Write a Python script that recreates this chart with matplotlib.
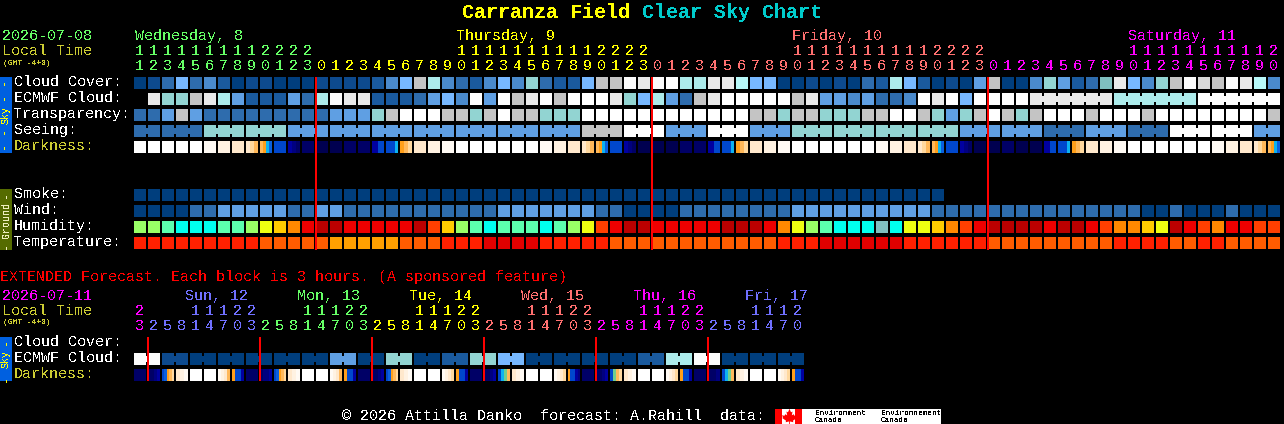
import matplotlib
matplotlib.use("Agg")
import matplotlib.pyplot as plt
from matplotlib.colors import ListedColormap
from matplotlib.patches import Rectangle

plt.rcParams["font.family"] = ["Liberation Mono", "DejaVu Sans Mono"]
plt.rcParams["text.antialiased"] = False

# ---------- palettes ----------
sky_palette = ["#003E7D", "#0D4A8E", "#1A5A9E", "#2E6CAD", "#4A8ACC", "#5F9FE3", "#77B8FF", "#7FBFBF",
               "#92D4D2", "#ACEBEB", "#B8F9F9", "#C4C4C4", "#D9D9D9", "#E9E9E9", "#FBFBFB", "#FFFFFF"]
humidity_palette = ["#99FF66", "#5CFFAE", "#00FFEE", "#EEFF11", "#FFCC00", "#FF8800", "#FF3F00",
                    "#EE0000", "#BB0000", "#80BFBF"]
temperature_palette = ["#FF2000", "#FF5C00", "#FFA000", "#E00000"]
darkness_palette = ["#FFFFFF", "#FFFAF4", "#FFF2E2", "#FFE8CC", "#FFD89E", "#FFB85A", "#FF9F1A", "#0DB2F0",
                    "#0A60DD", "#0047CC", "#0000A0", "#000080", "#000066", "#000050", "#6FCF8F"]

# ---------- hourly forecast values (class index, -1 = no data) ----------
cloud_cover = [0, 1, 3, 6, 3, 4, 2, 0, 1, 1, 0, 0, 0, 1, 1, 1, 1, 2, 4, 6, 11, 9,
               4, 3, 2, 4, 6, 4, 8, 3, 2, 2, 6, 11, 11, 14, 13, 14, 15, 9, 9, 13, 13, 10, 6, 6, 0, 0, 1, 0, 1, 0,
               3, 2, 9, 6, 2, 0, 1, 0, 5, 11, 0, 0, 4, 8, 5, 2, 3, 7, 13, 6, 4, 8, 11, 14, 12, 11, 14, 13, 10, 4]
ecmwf_cloud = [-1, 13, 8, 8, 11, 13, 9, 5, 2, 2, 2, 5, 3, 9, 14, 13, 13, 2, 2, 2, 3, 5,
               6, 4, 15, 5, 15, 11, 13, 15, 11, 15, 15, 15, 13, 8, 6, 9, 5, 3, 11, 13, 15, 15, 15, 15, 15, 11, 13, 5, 5, 4,
               5, 3, 3, 4, 15, 13, 15, 6, 15, 15, 15, 15,
               13, 13, 13, 13, 13, 13, 9, 9, 9, 9, 9, 9, 15, 15, 15, 15, 15, 15]
ecmwf_groups = [1] * 64 + [6, 6, 6]
transparency = [3, 3, 5, 11, 5, 3, 3, 3, 3, 3, 3, 3, 3, 3, 5, 5, 5, 8, 11, 15, 15, 15,
                11, 11, 8, 11, 15, 11, 11, 8, 8, 8, 15, 15, 15, 15, 15, 15, 15, 15, 15, 15, 15, 15, 11, 11, 8, 11, 11, 8, 8, 8,
                11, 11, 15, 15, 11, 8, 5, 8, 11, 15, 11, 8, 11, 15, 15, 15, 11, 15, 15, 15, 11, 15, 15, 15, 15, 15, 15, 15, 15, 11]
seeing = [3, 3, 3, 3, 3, 8, 8, 8, 8, 8, 8, 5, 5, 5, 5, 5, 5, 5, 5, 5, 5, 5,
          5, 5, 5, 5, 5, 5, 5, 5, 5, 5, 11, 11, 11, 15, 15, 15, 5, 5, 5, 15, 15, 15, 5, 5, 5, 8, 8, 8, 8, 8,
          8, 8, 8, 8, 8, 8, 8, 5, 5, 5, 5, 5, 5, 3, 3, 3, 5, 5, 5, 3, 3, 3, 15, 15, 15, 15, 15, 15, 5, 5]
seeing_groups = [2] + [3] * 26 + [2]
darkness = [[0], [0], [0], [0], [0], [1], [2], [3], [3, 4, 5], [5, 6, 7, 8], [9], [10, 11, 12], [12], [13], [13],
            [12], [12], [10, 9], [9, 9, 9, 7], [6, 5, 4], [3], [2], [1], [0], [0], [0], [0], [0], [0],
            [1], [2], [3], [3, 4, 5], [5, 6, 7, 8], [9], [10, 11, 12], [13], [13], [13], [12], [12], [10, 9], [9, 9, 9, 7],
            [6, 5, 4], [3], [2], [1], [0], [0], [0], [0], [0],
            [0], [1], [2], [3], [3, 4, 5], [5, 6, 7, 8], [9], [10, 11, 12], [13], [13], [12], [13], [13], [10, 9], [9, 9, 9, 7],
            [6, 5, 4], [3], [2], [1], [0], [0], [0], [0], [0], [0], [1], [2], [3], [3, 4, 5], [5, 6, 7, 8]]
smoke = [0, 0, 0, 0, 0, 0, 0, 0, 0, 0, 0, 0, 0, 0, 0, 0, 0, 0, 0, 0, 0, 0, 0, 0, 0, 0, 0, 0, 0,
         0, 0, 0, 0, 0, 0, 0, 0, 0, 0, 0, 0, 0, 0, 0, 0, 0, 0, 0, 0, 0, 0, 0, 0, 0, 0, 0, 0, 0]
wind = [0, 0, 0, 0, 3, 3, 5, 5, 5, 5, 5, 3, 3, 5, 5, 3, 3, 3, 3, 3, 3,
        3, 3, 3, 3, 3, 5, 5, 5, 5, 5, 5, 5, 3, 3, 0, 0, 0, 0, 3, 3, 3, 3, 3, 3, 3, 3, 5, 5, 5, 5, 5,
        5, 5, 5, 5, 5, 3, 3, 3, 3, 3, 3, 3, 3, 3, 3, 3, 3, 3, 3, 3, 0, 0, 3, 0, 0, 0, 3, 0, 0, 0]
humidity = [0, 0, 1, 2, 2, 2, 1, 1, 0, 3, 4, 5, 7, 8, 8, 7, 7, 7, 7, 7, 8,
            6, 4, 0, 1, 2, 1, 1, 1, 2, 1, 0, 3, 6, 7, 8, 8, 7, 7, 7, 7, 7, 8, 8, 8, 7, 5, 3, 0, 1, 2, 2,
            2, 9, 2, 3, 3, 4, 5, 6, 7, 8, 8, 8, 8, 7, 8, 8, 7, 6, 5, 5, 4, 3, 8, 7, 6, 5, 7, 7, 6, 6]
temperature = [0, 0, 0, 0, 0, 0, 0, 0, 0, 1, 1, 1, 1, 1, 2, 2, 2, 2, 2, 1, 1,
               1, 0, 0, 0, 3, 3, 3, 3, 0, 0, 0, 0, 0, 1, 1, 1, 1, 1, 1, 1, 1, 1, 1, 1, 1, 0, 0, 0, 3, 3, 3,
               3, 3, 3, 0, 0, 0, 0, 0, 0, 1, 1, 1, 1, 1, 1, 1, 1, 1, 0, 0, 0, 0, 1, 1, 0, 0, 1, 1, 1, 1]

# ---------- extended forecast values (3-hour blocks) ----------
ext_ecmwf = [14, 14, 1, 1, 0, 0, 0, 0, 0, 0, 0, 0, 0, 0, 5, 5, 0, 0, 8, 8, 0, 0, 2, 2,
             8, 8, 6, 6, 0, 0, 0, 0, 0, 0, 0, 0, 2, 2, 9, 9, 14, 14, 0, 0, 0, 0, 0, 0]
ext_ecmwf_groups = [2] * 24
ext_darkness = [[12], [12, 12, 11, 10], [9, 8, 6, 5, 4], [3, 2, 1], [0], [0], [1, 2, 3, 5], [6, 9, 9, 10],
                [12], [12, 11, 11, 10], [9, 8, 6, 5, 4], [3, 2, 1], [0], [0], [1, 2, 3, 5], [6, 9, 9, 10],
                [12], [12, 12, 11, 10], [9, 8, 6, 5, 4], [3, 2, 1], [0], [0], [1, 2, 3, 4], [6, 9, 9, 10],
                [12], [12, 12, 11, 10], [9, 7, 14, 5], [3, 2, 1], [0], [0], [1, 2, 3, 4], [6, 9, 9, 10, 11],
                [12], [12, 12, 11, 10], [9, 14, 5, 4], [3, 2, 1], [0], [0], [1, 2, 3, 4], [6, 9, 9, 10],
                [12], [12, 12, 11], [9, 7, 14, 5], [3, 2, 1], [0], [0], [1, 2, 3, 4], [6, 9, 9, 10]]

# ---------- categories and labels ----------
GREEN, YELLOW, CORAL, MAGENTA, BLUE = "#66FF66", "#FFFF00", "#FF7070", "#FF00FF", "#7070FF"
OLIVE = "#CCCC33"
day_labels = ["Wednesday, 8", "Thursday, 9", "Friday, 10", "Saturday, 11"]
day_colors = [GREEN, YELLOW, CORAL, MAGENTA]
day_hours = [list(range(11, 24)), list(range(0, 24)), list(range(0, 24)), list(range(0, 21))]
ext_day_labels = ["Sun, 12", "Mon, 13", "Tue, 14", "Wed, 15", "Thu, 16", "Fri, 17"]
ext_day_colors = [BLUE, GREEN, YELLOW, CORAL, MAGENTA, BLUE]
ext_day_hours = [[2, 5, 8, 11, 14, 17, 20, 23], [2, 5, 8, 11, 14, 17, 20, 23], [2, 5, 8, 11, 14, 17, 20, 23],
                 [2, 5, 8, 11, 14, 17, 20, 23], [2, 5, 8, 11, 14, 17, 20, 23], [2, 5, 8, 11, 14, 17, 20]]
ext_first_hour = 23
sky_labels = ["Cloud Cover:", "ECMWF Cloud:", "Transparency:", "Seeing:", "Darkness:"]
ground_labels = ["Smoke:", "Wind:", "Humidity:", "Temperature:"]
ext_labels = ["Cloud Cover:", "ECMWF Cloud:", "Darkness:"]

# ---------- canvas in image pixels ----------
fig = plt.figure(figsize=(12.84, 4.24), dpi=100, facecolor="black")
ax = fig.add_axes([0, 0, 1, 1], facecolor="black")
ax.set_xlim(0, 1284)
ax.set_ylim(424, 0)
ax.axis("off")
ax.autoscale(False)

X0, STEP, BOX = 134, 14, 12
dark_cmap = ListedColormap(darkness_palette)
MAPLE = [(0, 1), (0.2, 0.55), (0.4, 0.65), (0.3, 0.15), (0.55, 0.3), (0.65, 0.1), (1, 0.15), (0.85, -0.1),
         (0.95, -0.2), (0.45, -0.55), (0.5, -0.75), (0.05, -0.65), (0.05, -1), (-0.05, -1), (-0.05, -0.65),
         (-0.5, -0.75), (-0.45, -0.55), (-0.95, -0.2), (-0.85, -0.1), (-1, 0.15), (-0.65, 0.1), (-0.55, 0.3),
         (-0.3, 0.15), (-0.4, 0.65), (-0.2, 0.55)]


def txt(x, y, s, color="white", size=10.8, **kw):
    ax.text(x, y, s, color=color, fontsize=size, va="baseline", ha=kw.pop("ha", "left"), **kw)


def rect(x, y, w, h, color, z=2):
    ax.add_patch(Rectangle((x, y), w, h, facecolor=color, edgecolor="none", linewidth=0,
                           antialiased=False, zorder=z))


def block_row(values, top, palette, groups=None):
    for i, v in enumerate(values):
        if v >= 0:
            rect(X0 + STEP * i, top, BOX, BOX, palette[v])
    if groups:
        start = 0
        for g in groups:
            for i in range(start, start + g - 1):
                rect(X0 + STEP * i + BOX, top + 3, STEP - BOX, BOX - 6, palette[values[i]])
            start += g


def gradient_row(values, top):
    for i, levels in enumerate(values):
        x = X0 + STEP * i
        ax.imshow([levels], cmap=dark_cmap, vmin=0, vmax=len(darkness_palette) - 1, aspect="auto",
                  interpolation="nearest", extent=(x, x + BOX, top + BOX, top), zorder=2)


def side_bar(top, bottom, color, word, fg, dash, dash_top, dash_bottom):
    rect(0, top, 12, bottom - top, color)
    for y, s, size in ((dash_top, dash, 9), ((top + bottom) / 2, word, 7.2), (dash_bottom, dash, 9)):
        ax.text(6, y, s, color=fg, fontsize=size, rotation=90, ha="center", va="center", zorder=3)


# ---------- title ----------
txt(462, 18, "Carranza Field", YELLOW, 14.4, fontweight="bold")
txt(642, 18, "Clear Sky Chart", "#00CCCC", 14.4, fontweight="bold")

# ---------- hourly header ----------
txt(2, 40, "2026-07-08", GREEN)
txt(2, 55, "Local Time", OLIVE)
txt(3, 65, "(GMT -4+0)", OLIVE, 5.8)
col = 0
for label, color, hours in zip(day_labels, day_colors, day_hours):
    first_ten = next(k for k, h in enumerate(hours) if h >= 10)
    offset = 1 if col == 0 else first_ten * STEP
    txt(X0 + STEP * col + offset, 40, label, color)
    for h in hours:
        cx = X0 + 5.5 + STEP * col
        if h >= 10:
            txt(cx, 55, str(h // 10), color, ha="center")
        txt(cx, 70, str(h % 10), color, ha="center")
        col += 1

# ---------- sky rows ----------
side_bar(77, 153, "#0060E0", "Sky", YELLOW, "- -", 91, 140)
for label, base, c in zip(sky_labels, (86, 102, 118, 134, 150), ("white", "white", "white", "white", OLIVE)):
    txt(14, base, label, c)
block_row(cloud_cover, 77, sky_palette)
block_row(ecmwf_cloud, 93, sky_palette, ecmwf_groups)
block_row(transparency, 109, sky_palette)
block_row(seeing, 125, sky_palette, seeing_groups)
gradient_row(darkness, 141)

# ---------- ground rows ----------
side_bar(189, 250, "#556B00", "Ground", "#F0F0C0", "-", 194, 245)
for label, base in zip(ground_labels, (198, 214, 230, 246)):
    txt(14, base, label)
block_row(smoke, 189, sky_palette)
block_row(wind, 205, sky_palette)
block_row(humidity, 221, humidity_palette)
block_row(temperature, 237, temperature_palette)

# midnight markers, hourly part
col = 0
for hours in day_hours[:-1]:
    col += len(hours)
    rect(X0 + STEP * col - 1, 77, 2, 173, "#FF0000", z=4)

# ---------- extended forecast ----------
txt(0, 281, "EXTENDED Forecast. Each block is 3 hours. (A sponsored feature)", "#FF0000")
txt(2, 300, "2026-07-11", MAGENTA)
txt(2, 315, "Local Time", OLIVE)
txt(3, 324.5, "(GMT -4+0)", OLIVE, 5.8)
txt(X0 + 5.5, 315, str(ext_first_hour // 10), MAGENTA, ha="center")
txt(X0 + 5.5, 330, str(ext_first_hour % 10), MAGENTA, ha="center")
col = 1
for label, color, hours in zip(ext_day_labels, ext_day_colors, ext_day_hours):
    txt(X0 + STEP * col + 37, 300, label, color)
    rect(X0 + STEP * col - 1, 337, 2, 44, "#FF0000", z=4)
    for h in hours:
        cx = X0 + 5.5 + STEP * col
        if h >= 10:
            txt(cx, 315, str(h // 10), color, ha="center")
        txt(cx, 330, str(h % 10), color, ha="center")
        col += 1

side_bar(337, 381, "#0060E0", "Sky", YELLOW, "-", 341, 378)
for label, base, c in zip(ext_labels, (346, 362, 378), ("white", "white", OLIVE)):
    txt(14, base, label, c)
block_row(ext_ecmwf, 353, sky_palette, ext_ecmwf_groups)
gradient_row(ext_darkness, 369)

# ---------- footer ----------
txt(342, 420, "\u00a9 2026 Attilla Danko  forecast: A.Rahill  data:")
rect(775, 409, 166, 15, "white")
rect(775, 409, 7, 15, "#FF0000", z=3)
rect(795, 409, 7, 15, "#FF0000", z=3)
ax.plot([788.5], [416], marker=MAPLE, color="#FF0000", markersize=11, markeredgewidth=0, zorder=3)
for x, top_word in ((815, "Environment"), (881, "Environnement")):
    txt(x, 415, top_word, "black", 5.6, zorder=4)
    txt(x, 422, "Canada", "black", 5.6, zorder=4)

fig.savefig("out.png", dpi=100, facecolor="black")
